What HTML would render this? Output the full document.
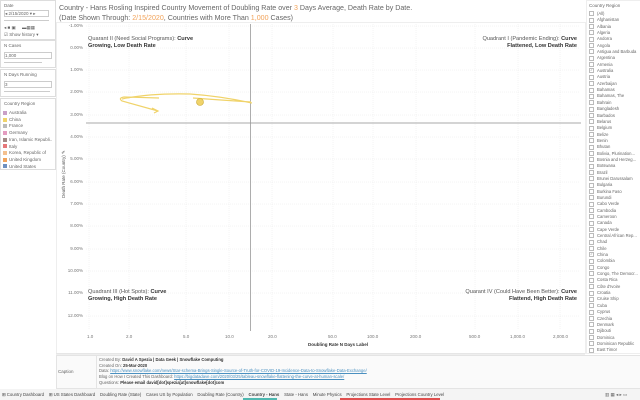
<!DOCTYPE html><html><head><meta charset="utf-8"><style>
body{margin:0;width:640px;height:400px;overflow:hidden;background:#fff;font-family:"Liberation Sans",sans-serif;position:relative;color:#555}
.a{position:absolute;white-space:nowrap}
.box{position:absolute;border:1px solid #ddd;background:#fff}
.s{font-size:4.5px;color:#666}
.y{font-size:4.5px;color:#777;text-align:right;width:30px}
.x{font-size:4.5px;color:#777}
.q{font-size:5.6px;color:#555}
.q b{color:#333}
.sw{display:inline-block;width:4px;height:4px;margin-right:2px;vertical-align:middle}
.cb{display:inline-block;width:3px;height:3px;border:1px solid #bbb;margin-right:3px;vertical-align:middle;font-size:3px;line-height:3px;text-align:center}
</style></head><body>
<div class="box" style="left:0;top:0;width:54px;height:38px"></div>
<div class="a s" style="left:4px;top:3px">Date</div>
<div class="a s" style="left:4px;top:10px;border:1px solid #ccc;width:43px;height:5px;line-height:5px">◂ 2/15/2020 ▾ ▸</div>
<div class="a" style="left:4px;top:20px;width:45px;height:1px;background:#ccc"></div>
<div class="a s" style="left:4px;top:25px">◂ ■ ▣ &nbsp;&nbsp;&nbsp; ▬▦▦</div>
<div class="a s" style="left:4px;top:32px">☑ Show history ▾</div>
<div class="box" style="left:0;top:40px;width:54px;height:26px"></div>
<div class="a s" style="left:4px;top:43px">N Cases</div>
<div class="a s" style="left:4px;top:52px;border:1px solid #ccc;width:46px;height:5px;line-height:5px">1,000</div>
<div class="a" style="left:4px;top:62px;width:38px;height:1px;background:#ccc"></div>
<div class="box" style="left:0;top:69px;width:54px;height:26px"></div>
<div class="a s" style="left:4px;top:72px">N Days Running</div>
<div class="a s" style="left:4px;top:81px;border:1px solid #ccc;width:46px;height:5px;line-height:5px">3</div>
<div class="a" style="left:4px;top:91px;width:46px;height:1px;background:#ccc"></div>
<div class="box" style="left:0;top:98px;width:54px;height:70px"></div>
<div class="a s" style="left:4px;top:101px">Country Region</div>
<div class="a s" style="left:3px;top:110px;line-height:6.7px">
<div><span class="sw" style="background:#c9a0c6"></span>Australia</div>
<div><span class="sw" style="background:#f0d36a"></span>China</div>
<div><span class="sw" style="background:#bbb"></span>France</div>
<div><span class="sw" style="background:#e49cc0"></span>Germany</div>
<div><span class="sw" style="background:#a38a86"></span>Iran, Islamic Republi..</div>
<div><span class="sw" style="background:#e6787a"></span>Italy</div>
<div><span class="sw" style="background:#f4c08e"></span>Korea, Republic of</div>
<div><span class="sw" style="background:#f2a35a"></span>United Kingdom</div>
<div><span class="sw" style="background:#6e90c0"></span>United States</div>
</div>
<div class="a" style="left:59px;top:4px;font-size:7.1px;color:#666;line-height:9.5px">Country - Hans Rosling Inspired Country Movement of Doubling Rate over <span style="color:#f2a35a">3</span> Days Average, Death Rate by Date.<br>(Date Shown Through: <span style="color:#f2a35a">2/15/2020</span>, Countries with More Than <span style="color:#f2a35a">1,000</span> Cases)</div>
<div class="box" style="left:56px;top:22px;width:528px;height:330px;border-color:#eee"></div>
<svg class="a" style="left:0;top:0" width="640" height="400">
<g stroke="#e8e8e8" stroke-width="0.5" stroke-dasharray="1,1">
<line x1="86" x2="580" y1="26" y2="26"/><line x1="86" x2="580" y1="48" y2="48"/><line x1="86" x2="580" y1="70" y2="70"/><line x1="86" x2="580" y1="92" y2="92"/><line x1="86" x2="580" y1="115" y2="115"/><line x1="86" x2="580" y1="137" y2="137"/><line x1="86" x2="580" y1="159" y2="159"/><line x1="86" x2="580" y1="182" y2="182"/><line x1="86" x2="580" y1="204" y2="204"/><line x1="86" x2="580" y1="226" y2="226"/><line x1="86" x2="580" y1="249" y2="249"/><line x1="86" x2="580" y1="271" y2="271"/><line x1="86" x2="580" y1="293" y2="293"/><line x1="86" x2="580" y1="316" y2="316"/>
<line y1="24" y2="330" x1="89" x2="89"/><line y1="24" y2="330" x1="129" x2="129"/><line y1="24" y2="330" x1="186" x2="186"/><line y1="24" y2="330" x1="229" x2="229"/><line y1="24" y2="330" x1="272" x2="272"/><line y1="24" y2="330" x1="333" x2="333"/><line y1="24" y2="330" x1="373" x2="373"/><line y1="24" y2="330" x1="416" x2="416"/><line y1="24" y2="330" x1="475" x2="475"/><line y1="24" y2="330" x1="518" x2="518"/><line y1="24" y2="330" x1="560" x2="560"/>
</g>
<line x1="86" x2="581" y1="123" y2="123" stroke="#aaa" stroke-width="1"/>
<line x1="250.5" x2="250.5" y1="24" y2="331" stroke="#999" stroke-width="0.8"/>
<path d="M159,98 L124,97 Q118,98 122,101 L158,111 M152,108 L158,111 L154,113" fill="none" stroke="#f0d36a" stroke-width="1.2"/>
<path d="M122,99 Q150,93 190,94 Q220,96 252,103 M193,98 Q220,100 251,102" fill="none" stroke="#f0d36a" stroke-width="1.2"/>
<circle cx="200" cy="102" r="3.5" fill="#f0d36a" stroke="#c9a830" stroke-width="0.6"/>
<line x1="56" x2="585" y1="354" y2="354" stroke="#ddd"/>
</svg>
<div class="a y" style="left:53px;top:23px">-1.00%</div><div class="a y" style="left:53px;top:45px">0.00%</div><div class="a y" style="left:53px;top:67px">1.00%</div><div class="a y" style="left:53px;top:89px">2.00%</div><div class="a y" style="left:53px;top:112px">3.00%</div><div class="a y" style="left:53px;top:134px">4.00%</div><div class="a y" style="left:53px;top:156px">5.00%</div><div class="a y" style="left:53px;top:179px">6.00%</div><div class="a y" style="left:53px;top:201px">7.00%</div><div class="a y" style="left:53px;top:223px">8.00%</div><div class="a y" style="left:53px;top:246px">9.00%</div><div class="a y" style="left:53px;top:268px">10.00%</div><div class="a y" style="left:53px;top:290px">11.00%</div><div class="a y" style="left:53px;top:313px">12.00%</div>
<div class="a" style="left:61px;top:198px;font-size:4.5px;color:#555;transform:rotate(-90deg);transform-origin:0 0">Death Rate (Country) ✎</div>
<div class="a x" style="left:87px;top:334px">1.0</div><div class="a x" style="left:126px;top:334px">2.0</div><div class="a x" style="left:183px;top:334px">5.0</div><div class="a x" style="left:225px;top:334px">10.0</div><div class="a x" style="left:268px;top:334px">20.0</div><div class="a x" style="left:328px;top:334px">50.0</div><div class="a x" style="left:367px;top:334px">100.0</div><div class="a x" style="left:410px;top:334px">200.0</div><div class="a x" style="left:469px;top:334px">500.0</div><div class="a x" style="left:510px;top:334px">1,000.0</div><div class="a x" style="left:553px;top:334px">2,000.0</div>
<div class="a" style="left:308px;top:342px;font-size:4.5px;color:#333;font-weight:bold">Doubling Rate N Days Label</div>
<div class="a q" style="left:88px;top:36px;line-height:7.3px">Quarant II (Need Social Programs): <b>Curve<br>Growing, Low Death Rate</b></div>
<div class="a q" style="left:440px;top:36px;line-height:7.3px;text-align:right;width:137px">Quadrant I (Pandemic Ending): <b>Curve<br>Flattened, Low Death Rate</b></div>
<div class="a q" style="left:88px;top:89px;display:none"></div>
<div class="a q" style="left:88px;top:289px;line-height:7.3px">Quadrant III (Hot Spots): <b>Curve<br>Growing, High Death Rate</b></div>
<div class="a q" style="left:420px;top:289px;line-height:7.3px;text-align:right;width:157px">Quarant IV (Could Have Been Better): <b>Curve<br>Flattend, High Death Rate</b></div>
<div class="box" style="left:56px;top:355px;width:583px;height:32px;background:#fafafa;border-color:#e4e4e4"></div>
<div class="a" style="left:96px;top:355px;width:1px;height:33px;background:#e4e4e4"></div>
<div class="a s" style="left:58px;top:369px">Caption</div>
<div class="a" style="left:99px;top:357px;font-size:4.2px;line-height:5.7px;color:#666">Created By: <b style="color:#333">David A Spezia | Data Geek | Snowflake Computing</b><br>Created On: <b style="color:#333">25-Mar-2020</b><br>Data: <span style="color:#4a90c0;text-decoration:underline">https://www.snowflake.com/news/Star-schema-Brings-Single-Source-of-Truth-for-COVID-19-Incidence-Data-to-Snowflake-Data-Exchange/</span><br>Blog on How I Created This Dashboard: <span style="color:#4a90c0;text-decoration:underline">https://bigdatadave.com/2020/03/25/tableau-snowflake-flattening-the-curve-at-human-scale/</span><br>Questions: <b style="color:#333">Please email david[dot]spezia[at]snowflake[dot]com</b></div>
<div class="a" style="left:0;top:389px;width:640px;height:11px;background:#f4f4f4"></div>
<div class="a" style="left:2px;top:392px;font-size:4.3px;color:#444">⊞ Country Dashboard &nbsp;&nbsp; ⊞ US States Dashboard &nbsp;&nbsp; Doubling Rate (State) &nbsp;&nbsp; Cases US by Population &nbsp;&nbsp; Doubling Rate (Country) &nbsp;&nbsp; <b>Country - Hans</b> &nbsp;&nbsp; State - Hans &nbsp;&nbsp; Minute Physics &nbsp;&nbsp; Projections State Level &nbsp;&nbsp; Projections Country Level</div>
<div class="a" style="left:243px;top:398px;width:34px;height:1.5px;background:#4fb8b0"></div>
<div class="a" style="left:340px;top:398px;width:100px;height:1.5px;background:#e05050"></div>
<div class="a s" style="left:605px;top:392px">▥ ▦ ◂ ▸ ▭</div>
<div class="box" style="left:586px;top:0;width:53px;height:352px;border-color:#eee"></div>
<div class="a s" style="left:589px;top:3px">Country Region</div>
<div class="a" style="left:589px;top:11px;font-size:4.2px;line-height:6.35px;color:#666">
<div><span class="cb"></span>(All)</div><div><span class="cb"></span>Afghanistan</div><div><span class="cb"></span>Albania</div><div><span class="cb"></span>Algeria</div><div><span class="cb"></span>Andorra</div><div><span class="cb"></span>Angola</div><div><span class="cb"></span>Antigua and Barbuda</div><div><span class="cb"></span>Argentina</div><div><span class="cb"></span>Armenia</div><div><span class="cb">✓</span>Australia</div><div><span class="cb"></span>Austria</div><div><span class="cb"></span>Azerbaijan</div><div><span class="cb"></span>Bahamas</div><div><span class="cb"></span>Bahamas, The</div><div><span class="cb"></span>Bahrain</div><div><span class="cb"></span>Bangladesh</div><div><span class="cb"></span>Barbados</div><div><span class="cb"></span>Belarus</div><div><span class="cb"></span>Belgium</div><div><span class="cb"></span>Belize</div><div><span class="cb"></span>Benin</div><div><span class="cb"></span>Bhutan</div><div><span class="cb"></span>Bolivia, Plurination...</div><div><span class="cb"></span>Bosnia and Herzeg...</div><div><span class="cb"></span>Botswana</div><div><span class="cb"></span>Brazil</div><div><span class="cb"></span>Brunei Darussalam</div><div><span class="cb"></span>Bulgaria</div><div><span class="cb"></span>Burkina Faso</div><div><span class="cb"></span>Burundi</div><div><span class="cb"></span>Cabo Verde</div><div><span class="cb"></span>Cambodia</div><div><span class="cb"></span>Cameroon</div><div><span class="cb"></span>Canada</div><div><span class="cb"></span>Cape Verde</div><div><span class="cb"></span>Central African Rep...</div><div><span class="cb"></span>Chad</div><div><span class="cb"></span>Chile</div><div><span class="cb">✓</span>China</div><div><span class="cb"></span>Colombia</div><div><span class="cb"></span>Congo</div><div><span class="cb"></span>Congo, The Democr...</div><div><span class="cb"></span>Costa Rica</div><div><span class="cb"></span>Côte d'Ivoire</div><div><span class="cb"></span>Croatia</div><div><span class="cb"></span>Cruise Ship</div><div><span class="cb"></span>Cuba</div><div><span class="cb"></span>Cyprus</div><div><span class="cb"></span>Czechia</div><div><span class="cb"></span>Denmark</div><div><span class="cb"></span>Djibouti</div><div><span class="cb"></span>Dominica</div><div><span class="cb"></span>Dominican Republic</div><div><span class="cb"></span>East Timor</div>
</div>
</body></html>
